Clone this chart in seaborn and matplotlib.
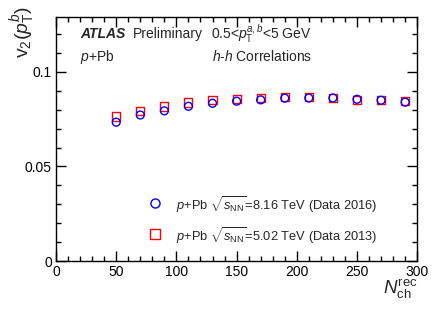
import numpy as np
import pandas as pd
import seaborn as sns
import matplotlib.pyplot as plt
from matplotlib.ticker import MultipleLocator

# multiplicity bins and v2 values
nch = [50, 70, 90, 110, 130, 150, 170, 190, 210, 230, 250, 270, 290]
v2_2016 = [0.0734, 0.0772, 0.0794, 0.0818, 0.0834, 0.0845, 0.0852,
           0.0861, 0.0862, 0.0862, 0.0855, 0.0850, 0.0840]
v2_2013 = [0.0764, 0.0795, 0.0817, 0.0838, 0.0850, 0.0857, 0.0862,
           0.0866, 0.0866, 0.0862, 0.0852, 0.0850, 0.0845]

sns.set_style("ticks")
plt.rcParams['font.family'] = ['Liberation Sans', 'DejaVu Sans']
plt.rcParams['mathtext.fontset'] = 'custom'
plt.rcParams['mathtext.rm'] = 'Liberation Sans'
plt.rcParams['mathtext.it'] = 'Liberation Sans:italic'
plt.rcParams['mathtext.bf'] = 'Liberation Sans:bold'

df16 = pd.DataFrame({'nch': nch, 'v2': v2_2016})
df13 = pd.DataFrame({'nch': nch, 'v2': v2_2013})

fig = plt.figure(figsize=(4.41, 3.2), dpi=100)
ax = fig.add_axes([0.127, 0.184, 0.819, 0.763])

sns.scatterplot(data=df13, x='nch', y='v2', marker='s', s=34,
                facecolors='none', edgecolor='red', linewidth=1, ax=ax)
sns.scatterplot(data=df16, x='nch', y='v2', marker='o', s=32,
                facecolors='none', edgecolor='blue', linewidth=1, ax=ax)

ax.set_xlim(0, 300)
ax.set_ylim(0, 0.129)
ax.xaxis.set_major_locator(MultipleLocator(50))
ax.xaxis.set_minor_locator(MultipleLocator(10))
ax.yaxis.set_minor_locator(MultipleLocator(0.01))
ax.set_yticks([0, 0.05, 0.1])
ax.set_yticklabels(['0', '0.05', '0.1'])
ax.tick_params(which='both', direction='in', top=True, right=True,
               labelsize=10, colors='black', width=1)
ax.tick_params(which='major', length=7, pad=3)
ax.tick_params(which='minor', length=3.5)
for sp in ax.spines.values():
    sp.set_linewidth(1)
    sp.set_color('black')

ax.set_xlabel('')
ax.set_ylabel('')
fig.text(0.946, 0.06, r'$N_{\mathrm{ch}}^{\mathrm{rec}}$', ha='right',
         va='bottom', fontsize=13.5)
fig.text(0.018, 0.98, r'v$_2$($p_{\mathrm{T}}^{b}$)', rotation=90,
         ha='left', va='top', fontsize=14)

# annotations
fig.text(0.181, 0.895, 'ATLAS', fontsize=10, fontweight='bold',
         fontstyle='italic', va='center')
fig.text(0.302, 0.895, 'Preliminary', fontsize=10, va='center')
fig.text(0.478, 0.895, r'0.5<$p_{\mathrm{T}}^{a,b}$<5 GeV', fontsize=10,
         va='center')
fig.text(0.181, 0.823, r'$p$+Pb', fontsize=10, va='center')
fig.text(0.48, 0.823, r'$h$-$h$ Correlations', fontsize=10, va='center')

# legend drawn by hand, ROOT style
lx = 0.352
fig.add_artist(plt.Line2D([lx], [0.366], marker='o', markersize=6.5,
                          mfc='none', mec='blue', mew=1, transform=fig.transFigure))
fig.add_artist(plt.Line2D([lx], [0.268], marker='s', markersize=6.5,
                          mfc='none', mec='red', mew=1, transform=fig.transFigure))
fig.text(0.398, 0.359, r'$p$+Pb $\sqrt{s_{\mathrm{NN}}}$=8.16 TeV (Data 2016)',
         fontsize=9.3, va='center')
fig.text(0.398, 0.262, r'$p$+Pb $\sqrt{s_{\mathrm{NN}}}$=5.02 TeV (Data 2013)',
         fontsize=9.3, va='center')

fig.savefig('out.png', dpi=100)
